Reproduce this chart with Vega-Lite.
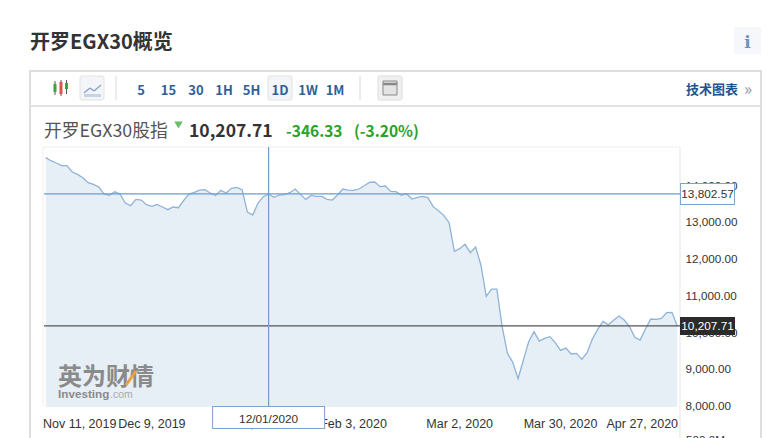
{"$schema":"https://vega.github.io/schema/vega-lite/v6.json","width":636,"height":260,"autosize":"none","padding":{"left":44,"top":147,"right":102,"bottom":31},"background":"#ffffff","view":{"stroke":null},
"config":{"text":{"baseline":"alphabetic","align":"left","font":"Noto Sans CJK SC"}},
"datasets":{"one":[{}],"index":[
{"date":"2019-11-11","close":14790},{"date":"2019-11-12","close":14708},{"date":"2019-11-13","close":14645},{"date":"2019-11-14","close":14572},{"date":"2019-11-17","close":14572},{"date":"2019-11-18","close":14400},{"date":"2019-11-19","close":14336},{"date":"2019-11-20","close":14245},{"date":"2019-11-21","close":14109},{"date":"2019-11-24","close":14064},{"date":"2019-11-25","close":13991},{"date":"2019-11-26","close":13800},{"date":"2019-11-27","close":13764},{"date":"2019-11-28","close":13864},{"date":"2019-12-01","close":13800},{"date":"2019-12-02","close":13555},{"date":"2019-12-03","close":13483},{"date":"2019-12-04","close":13655},{"date":"2019-12-05","close":13637},{"date":"2019-12-08","close":13510},{"date":"2019-12-09","close":13465},{"date":"2019-12-10","close":13519},{"date":"2019-12-11","close":13447},{"date":"2019-12-12","close":13374},{"date":"2019-12-15","close":13447},{"date":"2019-12-16","close":13428},{"date":"2019-12-17","close":13628},{"date":"2019-12-18","close":13800},{"date":"2019-12-19","close":13846},{"date":"2019-12-22","close":13909},{"date":"2019-12-23","close":13919},{"date":"2019-12-24","close":13828},{"date":"2019-12-25","close":13764},{"date":"2019-12-26","close":13900},{"date":"2019-12-29","close":13828},{"date":"2019-12-30","close":13955},{"date":"2019-12-31","close":13982},{"date":"2020-01-02","close":13919},{"date":"2020-01-05","close":13310},{"date":"2020-01-06","close":13229},{"date":"2020-01-08","close":13555},{"date":"2020-01-09","close":13728},{"date":"2020-01-12","close":13802.57},
{"date":"2020-01-13","close":13710},{"date":"2020-01-14","close":13773},{"date":"2020-01-15","close":13782},{"date":"2020-01-16","close":13837},{"date":"2020-01-19","close":13937},{"date":"2020-01-20","close":13791},{"date":"2020-01-21","close":13655},{"date":"2020-01-22","close":13764},{"date":"2020-01-23","close":13737},{"date":"2020-01-26","close":13737},{"date":"2020-01-27","close":13655},{"date":"2020-01-28","close":13637},{"date":"2020-01-29","close":13782},{"date":"2020-01-30","close":13937},{"date":"2020-02-02","close":13909},{"date":"2020-02-03","close":13900},{"date":"2020-02-04","close":13937},{"date":"2020-02-05","close":14027},{"date":"2020-02-06","close":14118},{"date":"2020-02-09","close":14127},{"date":"2020-02-10","close":14000},{"date":"2020-02-11","close":14018},{"date":"2020-02-12","close":13873},{"date":"2020-02-13","close":13864},{"date":"2020-02-16","close":13764},{"date":"2020-02-17","close":13810},{"date":"2020-02-18","close":13664},{"date":"2020-02-19","close":13710},{"date":"2020-02-20","close":13737},{"date":"2020-02-23","close":13701},{"date":"2020-02-24","close":13456},{"date":"2020-02-25","close":13347},{"date":"2020-02-26","close":13220},{"date":"2020-02-27","close":13020},{"date":"2020-03-01","close":12239},{"date":"2020-03-02","close":12312},{"date":"2020-03-03","close":12430},{"date":"2020-03-04","close":12203},{"date":"2020-03-05","close":12357},{"date":"2020-03-08","close":11867},{"date":"2020-03-09","close":11013},{"date":"2020-03-10","close":11213},{"date":"2020-03-11","close":11213},{"date":"2020-03-12","close":10187},{"date":"2020-03-15","close":9461},{"date":"2020-03-16","close":9216},{"date":"2020-03-17","close":8771},{"date":"2020-03-18","close":9280},{"date":"2020-03-19","close":9779},{"date":"2020-03-22","close":10051},{"date":"2020-03-23","close":9797},{"date":"2020-03-24","close":9870},{"date":"2020-03-25","close":9915},{"date":"2020-03-29","close":9752},{"date":"2020-03-30","close":9543},{"date":"2020-03-31","close":9606},{"date":"2020-04-01","close":9443},{"date":"2020-04-02","close":9461},{"date":"2020-04-05","close":9298},{"date":"2020-04-06","close":9479},{"date":"2020-04-07","close":9852},{"date":"2020-04-08","close":10115},{"date":"2020-04-09","close":10333},{"date":"2020-04-12","close":10242},{"date":"2020-04-13","close":10360},{"date":"2020-04-14","close":10478},{"date":"2020-04-15","close":10369},{"date":"2020-04-16","close":10187},{"date":"2020-04-19","close":9897},{"date":"2020-04-21","close":9824},{"date":"2020-04-22","close":10124},{"date":"2020-04-23","close":10396},{"date":"2020-04-26","close":10387},{"date":"2020-04-27","close":10414},{"date":"2020-04-28","close":10569},{"date":"2020-04-29","close":10578},{"date":"2020-04-30","close":10207.71}
]},
"layer":[
{"data":{"name":"one"},"mark":{"type":"rect","x":-14,"x2":717,"y":-76,"y2":310,"fill":"transparent","stroke":"#dedede","strokeWidth":2}},
{"data":{"name":"one"},"mark":{"type":"rule","stroke":"#e2e2e2","strokeWidth":2},"encoding":{"x":{"value":-14},"x2":{"value":717},"y":{"value":-41}}},
{"data":{"name":"one"},"mark":{"type":"rule","stroke":"#eeeeee"},"encoding":{"x":{"value":-1},"x2":{"value":636},"y":{"value":0}}},
{"data":{"name":"one"},"mark":{"type":"rule","stroke":"#eeeeee"},"encoding":{"x":{"value":-1},"y":{"value":0},"y2":{"value":260}}},
{"data":{"name":"one"},"mark":{"type":"rule","stroke":"#eeeeee","strokeWidth":1.5},"encoding":{"x":{"value":636},"y":{"value":0},"y2":{"value":295}}},
{"data":{"name":"index"},"mark":{"type":"area","color":"#e6eef6"},"encoding":{
"x":{"field":"date","type":"ordinal","scale":{"type":"point","padding":0,"range":[1.7,633.3]},"axis":null},
"y":{"field":"close","type":"quantitative","title":null,"scale":{"domain":[8000,15081],"zero":false,"nice":false},"axis":{"orient":"right","values":[8000,9000,10000,11000,12000,13000,14000],"format":",.2f","ticks":false,"domain":false,"grid":false,"labelFont":"Liberation Sans","labelFontSize":11.7,"labelColor":"#333333","labelPadding":5,"labelOffset":-1.5,"labelOverlap":false,"labelFlush":false}},
"y2":{"datum":8000}}},
{"data":{"name":"index"},"mark":{"type":"line","color":"#8fb3d8","strokeWidth":1.3},"encoding":{"x":{"field":"date","type":"ordinal"},"y":{"field":"close","type":"quantitative","title":null}}},
{"data":{"values":[{"close":10207.71}]},"mark":{"type":"rule","color":"#555555","strokeWidth":1.2},"encoding":{"y":{"field":"close","type":"quantitative","title":null}}},
{"data":{"values":[{"close":13802.57}]},"mark":{"type":"rule","color":"#6f9bcb","strokeWidth":1.2},"encoding":{"y":{"field":"close","type":"quantitative","title":null}}},
{"data":{"values":[{"date":"2020-01-12"}]},"mark":{"type":"rule","color":"#6f9bcb","strokeWidth":1.2},"encoding":{"x":{"field":"date","type":"ordinal"},"y":{"value":0},"y2":{"value":260}}},
{"data":{"values":[{"close":13802.57}]},"mark":{"type":"rule","color":"#7fa3cf","strokeWidth":22,"strokeCap":"butt"},"encoding":{"y":{"field":"close","type":"quantitative","title":null},"x":{"value":636},"x2":{"value":691}}},
{"data":{"values":[{"close":13802.57}]},"mark":{"type":"rule","color":"#ffffff","strokeWidth":20,"strokeCap":"butt"},"encoding":{"y":{"field":"close","type":"quantitative","title":null},"x":{"value":637},"x2":{"value":690}}},
{"data":{"values":[{"close":13802.57,"label":"13,802.57"}]},"mark":{"type":"text","font":"Liberation Sans","fontSize":11.8,"align":"center","baseline":"middle","color":"#333333"},"encoding":{"y":{"field":"close","type":"quantitative","title":null},"x":{"value":663.5},"text":{"field":"label"}}},
{"data":{"values":[{"close":10207.71}]},"mark":{"type":"rule","color":"#2b2b2b","strokeWidth":18,"strokeCap":"butt"},"encoding":{"y":{"field":"close","type":"quantitative","title":null},"x":{"value":636},"x2":{"value":691}}},
{"data":{"values":[{"close":10207.71,"label":"10,207.71"}]},"mark":{"type":"text","font":"Liberation Sans","fontSize":11.8,"align":"center","baseline":"middle","color":"#ffffff"},"encoding":{"y":{"field":"close","type":"quantitative","title":null},"x":{"value":663.5},"text":{"field":"label"}}},
{"data":{"values":[{"date":"2019-12-09","label":"Dec 9, 2019"},{"date":"2020-01-06","label":"Jan 6, 2020"},{"date":"2020-02-03","label":"Feb 3, 2020"},{"date":"2020-03-02","label":"Mar 2, 2020"},{"date":"2020-03-30","label":"Mar 30, 2020"}]},"mark":{"type":"text","font":"Liberation Sans","fontSize":12.5,"align":"center","color":"#333333"},"encoding":{"x":{"field":"date","type":"ordinal"},"y":{"value":281},"text":{"field":"label"}}},
{"data":{"values":[{"date":"2019-11-11","label":"Nov 11, 2019"}]},"mark":{"type":"text","font":"Liberation Sans","fontSize":12.5,"align":"left","dx":-2.7,"color":"#333333"},"encoding":{"x":{"field":"date","type":"ordinal"},"y":{"value":281},"text":{"field":"label"}}},
{"data":{"values":[{"date":"2020-04-27","label":"Apr 27, 2020"}]},"mark":{"type":"text","font":"Liberation Sans","fontSize":12.5,"align":"right","dx":16.7,"color":"#333333"},"encoding":{"x":{"field":"date","type":"ordinal"},"y":{"value":281},"text":{"field":"label"}}},
{"data":{"values":[{"date":"2020-01-12"}]},"mark":{"type":"rule","color":"#7fa3cf","strokeWidth":113,"strokeCap":"butt"},"encoding":{"x":{"field":"date","type":"ordinal"},"y":{"value":259},"y2":{"value":282}}},
{"data":{"values":[{"date":"2020-01-12"}]},"mark":{"type":"rule","color":"#ffffff","strokeWidth":111,"strokeCap":"butt"},"encoding":{"x":{"field":"date","type":"ordinal"},"y":{"value":260},"y2":{"value":281}}},
{"data":{"values":[{"date":"2020-01-12","label":"12/01/2020"}]},"mark":{"type":"text","font":"Liberation Sans","fontSize":11.8,"align":"center","baseline":"middle","color":"#333333"},"encoding":{"x":{"field":"date","type":"ordinal"},"y":{"value":272},"text":{"field":"label"}}},
{"data":{"name":"one"},"mark":{"type":"text","text":"开罗EGX30概览","x":-14,"y":-98,"fontSize":20,"fontWeight":"bold","color":"#333333"}},
{"data":{"name":"one"},"mark":{"type":"rect","x":690,"x2":717,"y":-120,"y2":-93,"fill":"#f5f7fa"}},
{"data":{"name":"one"},"mark":{"type":"text","text":"i","x":703.5,"y":-99,"align":"center","font":"DejaVu Serif","fontSize":17,"fontWeight":"bold","color":"#7090bd"}},
{"data":{"name":"one"},"mark":{"type":"rect","x":36,"x2":60,"y":-71,"y2":-47,"fill":"#f3f5f8","stroke":"#e2e2e2","cornerRadius":2}},
{"data":{"name":"one"},"mark":{"type":"rect","x":224,"x2":248,"y":-71,"y2":-47,"fill":"#f3f5f8","stroke":"#e2e2e2","cornerRadius":2}},
{"data":{"name":"one"},"mark":{"type":"rect","x":334,"x2":358,"y":-71,"y2":-47,"fill":"#f0f0f0","stroke":"#dddddd","cornerRadius":2}},
{"data":{"name":"one"},"mark":{"type":"rect","x":339,"x2":353,"y":-66,"y2":-52,"fill":"#e4e4e4","stroke":"#888888"}},
{"data":{"name":"one"},"mark":{"type":"rule","stroke":"#888888","strokeWidth":2.5},"encoding":{"x":{"value":339},"x2":{"value":353},"y":{"value":-63}}},
{"data":{"name":"one"},"mark":{"type":"rule","stroke":"#d8d8d8"},"encoding":{"x":{"value":72},"y":{"value":-71},"y2":{"value":-47}}},
{"data":{"name":"one"},"mark":{"type":"rule","stroke":"#d8d8d8"},"encoding":{"x":{"value":316},"y":{"value":-71},"y2":{"value":-47}}},
{"data":{"name":"one"},"mark":{"type":"rule","stroke":"#555555"},"encoding":{"x":{"value":11},"y":{"value":-66},"y2":{"value":-52}}},
{"data":{"name":"one"},"mark":{"type":"rule","stroke":"#555555"},"encoding":{"x":{"value":17},"y":{"value":-67},"y2":{"value":-51}}},
{"data":{"name":"one"},"mark":{"type":"rule","stroke":"#555555"},"encoding":{"x":{"value":22.5},"y":{"value":-67},"y2":{"value":-53}}},
{"data":{"name":"one"},"mark":{"type":"rect","x":9.5,"x2":12.5,"y":-63,"y2":-55,"fill":"#3aa53a"}},
{"data":{"name":"one"},"mark":{"type":"rect","x":15.5,"x2":18.5,"y":-65,"y2":-53,"fill":"#d9534f"}},
{"data":{"name":"one"},"mark":{"type":"rect","x":21,"x2":24,"y":-64,"y2":-58,"fill":"#3aa53a"}},
{"data":{"name":"one"},"mark":{"type":"rule","stroke":"#8aa6cc","strokeWidth":1.5},"encoding":{"x":{"value":40},"x2":{"value":46},"y":{"value":-54},"y2":{"value":-59}}},
{"data":{"name":"one"},"mark":{"type":"rule","stroke":"#8aa6cc","strokeWidth":1.5},"encoding":{"x":{"value":46},"x2":{"value":50},"y":{"value":-59},"y2":{"value":-56}}},
{"data":{"name":"one"},"mark":{"type":"rule","stroke":"#8aa6cc","strokeWidth":1.5},"encoding":{"x":{"value":50},"x2":{"value":57},"y":{"value":-56},"y2":{"value":-62}}},
{"data":{"name":"one"},"mark":{"type":"rule","stroke":"#c5d3e6","strokeWidth":3},"encoding":{"x":{"value":40},"x2":{"value":57},"y":{"value":-51.5}}},
{"data":{"name":"one"},"mark":{"type":"text","text":"5","x":97,"y":-52,"align":"center","fontSize":13,"fontWeight":"bold","color":"#2f5f9b"}},
{"data":{"name":"one"},"mark":{"type":"text","text":"15","x":124.5,"y":-52,"align":"center","fontSize":13,"fontWeight":"bold","color":"#2f5f9b"}},
{"data":{"name":"one"},"mark":{"type":"text","text":"30","x":152,"y":-52,"align":"center","fontSize":13,"fontWeight":"bold","color":"#2f5f9b"}},
{"data":{"name":"one"},"mark":{"type":"text","text":"1H","x":180,"y":-52,"align":"center","fontSize":13,"fontWeight":"bold","color":"#2f5f9b"}},
{"data":{"name":"one"},"mark":{"type":"text","text":"5H","x":207.5,"y":-52,"align":"center","fontSize":13,"fontWeight":"bold","color":"#2f5f9b"}},
{"data":{"name":"one"},"mark":{"type":"text","text":"1D","x":236,"y":-52,"align":"center","fontSize":13,"fontWeight":"bold","color":"#2f5f9b"}},
{"data":{"name":"one"},"mark":{"type":"text","text":"1W","x":264,"y":-52,"align":"center","fontSize":13,"fontWeight":"bold","color":"#2f5f9b"}},
{"data":{"name":"one"},"mark":{"type":"text","text":"1M","x":291,"y":-52,"align":"center","fontSize":13,"fontWeight":"bold","color":"#2f5f9b"}},
{"data":{"name":"one"},"mark":{"type":"text","text":"技术图表","x":642,"y":-53,"fontSize":13,"fontWeight":"bold","color":"#1f5592"}},
{"data":{"name":"one"},"mark":{"type":"text","text":"»","x":700,"y":-52,"fontSize":17,"color":"#8a93a8"}},
{"data":{"name":"one"},"mark":{"type":"text","text":"开罗EGX30股指","x":0,"y":-10,"fontSize":17.8,"color":"#555555"}},
{"data":{"name":"one"},"mark":{"type":"point","shape":"triangle-down","x":134.5,"y":-22,"size":70,"filled":true,"color":"#2aa32a"}},
{"data":{"name":"one"},"mark":{"type":"text","text":"10,207.71","x":145,"y":-10,"fontSize":17.5,"fontWeight":"bold","color":"#333333"}},
{"data":{"name":"one"},"mark":{"type":"text","text":"-346.33","x":242,"y":-10,"fontSize":15.5,"fontWeight":"bold","color":"#2aa32a"}},
{"data":{"name":"one"},"mark":{"type":"text","text":"(-3.20%)","x":310,"y":-10,"fontSize":15.5,"fontWeight":"bold","color":"#2aa32a"}},
{"data":{"name":"one"},"mark":{"type":"text","text":"英为财情","x":14,"y":238,"fontSize":24,"fontWeight":"bold","color":"#8a8a8a"}},
{"data":{"name":"one"},"mark":{"type":"rule","stroke":"#e8a33d","strokeWidth":3},"encoding":{"x":{"value":82},"x2":{"value":92},"y":{"value":238},"y2":{"value":224}}},
{"data":{"name":"one"},"mark":{"type":"text","text":"Investing","x":14,"y":250.5,"font":"Liberation Sans","fontSize":11.7,"fontWeight":"bold","color":"#8a8a8a"}},
{"data":{"name":"one"},"mark":{"type":"text","text":".com","x":66,"y":250.5,"font":"Liberation Sans","fontSize":10.5,"color":"#aaaaaa"}},
{"data":{"name":"one"},"mark":{"type":"text","text":"500.0M","x":642,"y":297,"font":"Liberation Sans","fontSize":11.7,"color":"#333333"}}
]}
